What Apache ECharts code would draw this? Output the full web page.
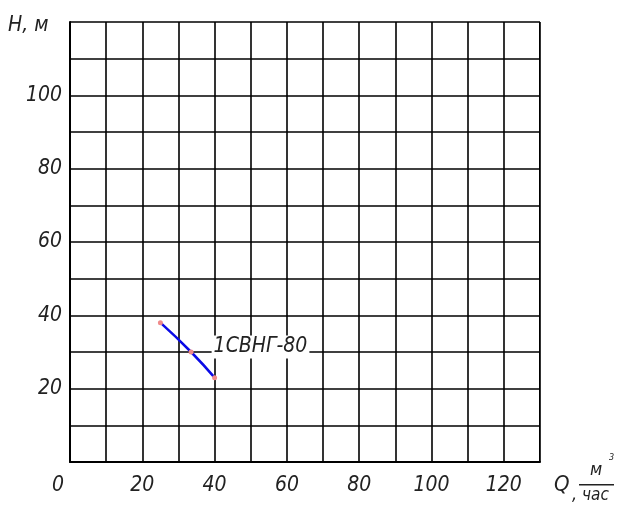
<!DOCTYPE html>
<html><head><meta charset="utf-8">
<script src="https://cdn.jsdelivr.net/npm/echarts@6/dist/echarts.min.js"></script>
<style>html,body{margin:0;padding:0;background:#fff}#c{width:624px;height:524px}</style>
</head><body><div id="c"></div>
<script>
var qValues = [25, 33.5, 40];
var hValues = [38, 30, 23];
var curveName = '1СВНГ-80';
var xTickLabels = [0, 20, 40, 60, 80, 100, 120];
var yTickLabels = [20, 40, 60, 80, 100];

var font = '"DejaVu Sans Condensed", "DejaVu Sans"';
var txt = '#222';
var chart = echarts.init(document.getElementById('c'));
var data = qValues.map(function (q, i) {
  var d = { value: [q, hValues[i]] };
  if (i === 1) {
    d.label = {
      show: true, formatter: curveName, position: 'right', distance: 18, offset: [0, -5],
      fontFamily: font, fontStyle: 'italic', fontSize: 21, color: txt,
      backgroundColor: '#fff', padding: [1, 2, 1, 2]
    };
  }
  return d;
});
chart.setOption({
  animation: false,
  backgroundColor: '#fff',
  grid: { left: 70, top: 22, right: 84, bottom: 62, containLabel: false },
  xAxis: {
    type: 'value', min: 0, max: 130, interval: 10,
    axisLine: { show: true, lineStyle: { color: '#000', width: 2 } },
    axisTick: { show: false },
    splitLine: { show: true, lineStyle: { color: '#000', width: 1.6 } },
    axisLabel: {
      margin: 13,
      fontFamily: font, fontStyle: 'italic', fontSize: 21, color: txt,
      formatter: function (v) {
        if (xTickLabels.indexOf(v) < 0) return '';
        return v === 0 ? '{z|0}' : String(v);
      },
      rich: { z: { fontFamily: font, fontStyle: 'italic', fontSize: 21, color: txt, padding: [0, 24, 0, 0] } }
    }
  },
  yAxis: {
    type: 'value', min: 0, max: 120, interval: 10,
    axisLine: { show: true, lineStyle: { color: '#000', width: 2 } },
    axisTick: { show: false },
    splitLine: { show: true, lineStyle: { color: '#000', width: 1.6 } },
    axisLabel: {
      margin: 8,
      fontFamily: font, fontStyle: 'italic', fontSize: 21, color: txt,
      formatter: function (v) { return yTickLabels.indexOf(v) >= 0 ? String(v) : ''; }
    }
  },
  graphic: [
    { type: 'rect', shape: { x: 539, y: 22, width: 1, height: 440 }, style: { fill: '#000' }, silent: true },
    { type: 'text', left: 8, top: 15, style: { text: 'H, м', font: 'italic 21px ' + font, fill: txt } },
    { type: 'text', left: 554, top: 474, style: { text: 'Q', font: 'italic 22px ' + font, fill: txt } },
    { type: 'text', left: 572, top: 486, style: { text: ',', font: 'italic 18px ' + font, fill: txt } },
    { type: 'text', left: 590, top: 461, style: { text: 'м', font: 'italic 18px ' + font, fill: txt } },
    { type: 'text', left: 609, top: 453, style: { text: '3', font: 'italic 9px ' + font, fill: txt } },
    { type: 'rect', shape: { x: 579, y: 484, width: 35, height: 1.5 }, style: { fill: txt } },
    { type: 'text', left: 582, top: 487, style: { text: 'час', font: 'italic 17px ' + font, fill: txt } }
  ],
  series: [{
    type: 'line', smooth: true, data: data,
    lineStyle: { color: '#0a0ae6', width: 2.5 },
    itemStyle: { color: '#f08a8a' },
    symbol: 'circle', symbolSize: 5
  }]
});
</script></body></html>
